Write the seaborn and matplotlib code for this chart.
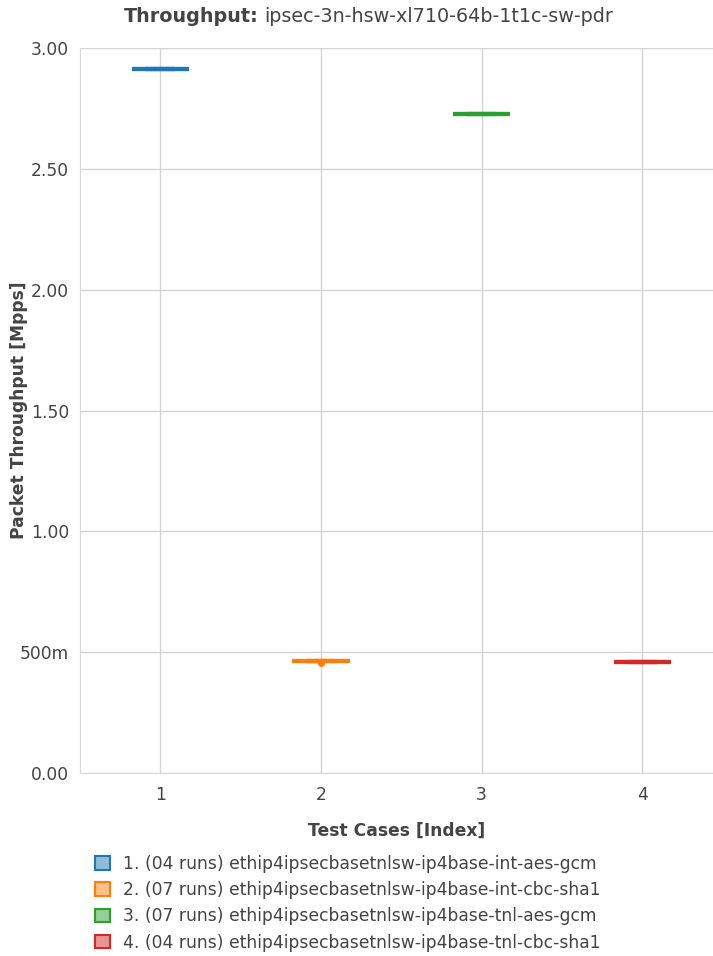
import pandas as pd
import matplotlib.pyplot as plt
import seaborn as sns
from matplotlib.patches import Patch
from matplotlib.ticker import FixedLocator

# Test case data (Mpps per run)
case_idx = ["1", "2", "3", "4"]
case_names = [
    "1. (04 runs) ethip4ipsecbasetnlsw-ip4base-int-aes-gcm",
    "2. (07 runs) ethip4ipsecbasetnlsw-ip4base-int-cbc-sha1",
    "3. (07 runs) ethip4ipsecbasetnlsw-ip4base-tnl-aes-gcm",
    "4. (04 runs) ethip4ipsecbasetnlsw-ip4base-tnl-cbc-sha1",
]
runs_1 = [2.913, 2.913, 2.913, 2.913]
runs_2 = [0.462, 0.462, 0.462, 0.462, 0.462, 0.462, 0.455]
runs_3 = [2.727, 2.727, 2.727, 2.727, 2.727, 2.727, 2.727]
runs_4 = [0.458, 0.458, 0.458, 0.458]

colors = ["#1f77b4", "#ff7f0e", "#2ca02c", "#d62728"]
light = ["#8fbbd9", "#ffbf86", "#95cf95", "#eb9393"]

rows = []
for idx, runs in zip(case_idx, [runs_1, runs_2, runs_3, runs_4]):
    for v in runs:
        rows.append({"Test Case": idx, "Throughput": v})
df = pd.DataFrame(rows)

sns.set_style("white")
plt.rcParams["font.family"] = ["DejaVu Sans"]

fig = plt.figure(figsize=(7.13, 9.56), dpi=100)
ax = fig.add_axes([80 / 713, 1 - 773 / 956, 633 / 713, 725 / 956])

sns.boxplot(
    data=df,
    x="Test Case",
    y="Throughput",
    hue="Test Case",
    order=case_idx,
    palette=colors,
    width=0.355,
    linewidth=3,
    whis=1.5,
    flierprops=dict(marker="o", markersize=4),
    legend=False,
    ax=ax,
)

# outline in solid colour, fill lighter like plotly
for patch, c, lc in zip(ax.patches, colors, light):
    patch.set_facecolor(lc)
    patch.set_edgecolor(c)
for i, line in enumerate(ax.lines):
    c = colors[min(i // 6, 3)]
    line.set_color(c)
    line.set_markerfacecolor(c)
    line.set_markeredgecolor(c)

ax.set_xlim(-0.5, 3.44)
ax.set_ylim(0, 3.0)
ax.yaxis.set_major_locator(FixedLocator([0, 0.5, 1.0, 1.5, 2.0, 2.5, 3.0]))
ax.set_yticklabels(["0.00", "500m", "1.00", "1.50", "2.00", "2.50", "3.00"])
ax.grid(True, color="#d4d4d4", linewidth=1)
ax.set_axisbelow(True)
for side in ["top", "right"]:
    ax.spines[side].set_visible(False)
for side in ["left", "bottom"]:
    ax.spines[side].set_color("#d9d9d9")
ax.tick_params(axis="y", length=5, color="#bbbbbb", labelsize=12.3, labelcolor="#444444", pad=3)
ax.tick_params(axis="x", length=0, labelsize=12.3, labelcolor="#444444", pad=9)

ax.set_xlabel("Test Cases [Index]", fontsize=12.3, fontweight="bold", color="#444444", labelpad=13)
ax.set_ylabel("Packet Throughput [Mpps]", fontsize=12.3, fontweight="bold", color="#444444")
ax.yaxis.set_label_coords((28 - 80) / 633, 0.5)

# title: bold part + regular part
t1 = fig.text(124 / 713, 1 - 16 / 956, "Throughput:", ha="left", va="center",
              fontsize=13.8, fontweight="bold", color="#444444")
fig.canvas.draw()
bb = t1.get_window_extent()
fig.text((bb.x1 + 5) / 713, 1 - 16 / 956, "ipsec-3n-hsw-xl710-64b-1t1c-sw-pdr",
         ha="left", va="center", fontsize=13.8, color="#444444")

handles = [Patch(facecolor=lc, edgecolor=c, linewidth=1.5) for c, lc in zip(colors, light)]
fig.legend(handles, case_names, loc="upper left", bbox_to_anchor=(95 / 713, 1 - 855 / 956),
           frameon=False, fontsize=12.3, labelcolor="#444444", handlelength=0.85,
           handleheight=0.85, handletextpad=0.8, labelspacing=0.48, borderaxespad=0,
           borderpad=0)

plt.savefig("out.png", dpi=100)
